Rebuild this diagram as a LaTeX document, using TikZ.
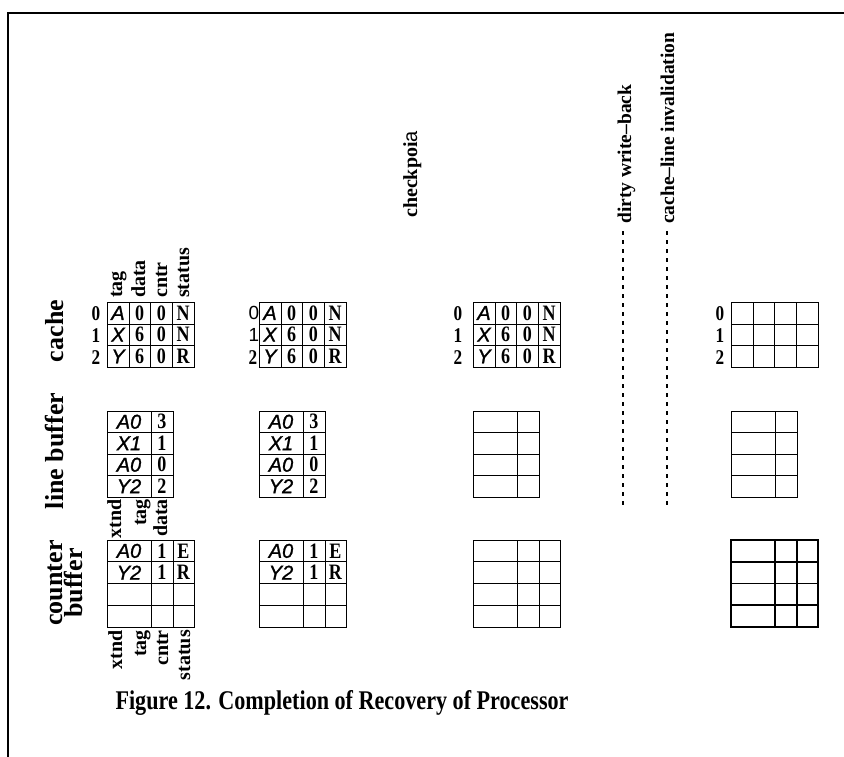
\documentclass[tikz,border=0pt]{standalone}
\usepackage{fontspec}
\setmainfont{Liberation Serif}
\newfontfamily\lserif{Liberation Serif}
\newfontfamily\cserif{Liberation Serif}[FakeStretch=0.82]
\newfontfamily\lsans{Liberation Sans}
\newfontfamily\lsansb{Liberation Sans}[FakeBold=1.2]

\newcommand\cachegrid[1]{%
  \draw[gridline] (#1,302) rectangle (#1+87,367);
  \foreach \dx in {22,43.5,65.5}{\draw[gridline] (#1+\dx,302) -- (#1+\dx,367);}
  \foreach \dy in {324,345.5}{\draw[gridline] (#1,\dy) -- (#1+87,\dy);}
}
\newcommand\cachefill[2]{%
  \foreach \ca/\cb/\cc/\cd [count=\i from 0] in {A/0/0/N,X/6/0/N,Y/6/0/R}{%
    \node[itcell] (#2a\i) at (#1+11,313+21.7*\i) {\ca};
    \node[cell] (#2b\i) at (#1+32.75,313+21.7*\i) {\cb};
    \node[cell] (#2c\i) at (#1+54.5,313+21.7*\i) {\cc};
    \node[cell] (#2d\i) at (#1+76.25,313+21.7*\i) {\cd};
  }}
\newcommand\lbgrid[1]{%
  \draw[gridline] (#1,411) rectangle (#1+66,497);
  \draw[gridline] (#1+44,411) -- (#1+44,497);
  \foreach \dy in {432.5,454,475.5}{\draw[gridline] (#1,\dy) -- (#1+66,\dy);}
}
\newcommand\lbfill[2]{%
  \foreach \ca/\cb [count=\i from 0] in {A0/3,X1/1,A0/0,Y2/2}{%
    \node[itcell] (#2a\i) at (#1+22,421.75+21.5*\i) {\ca};
    \node[cell] (#2b\i) at (#1+55,421.75+21.5*\i) {\cb};
  }}
\newcommand\cbgrid[2][]{%
  \draw[gridline,#1] (#2,540) rectangle (#2+87,627);
  \foreach \dx in {44,66}{\draw[gridline,#1] (#2+\dx,540) -- (#2+\dx,627);}
  \foreach \dy in {561.75,583.5,605.25}{\draw[gridline,#1] (#2,\dy) -- (#2+87,\dy);}
}
\newcommand\cbfill[2]{%
  \foreach \ca/\cb/\cc [count=\i from 0] in {A0/1/E,Y2/1/R}{%
    \node[itcell] (#2a\i) at (#1+22,550.9+21.75*\i) {\ca};
    \node[cell] (#2b\i) at (#1+55,550.9+21.75*\i) {\cb};
    \node[cell] (#2c\i) at (#1+76.5,550.9+21.75*\i) {\cc};
  }}

\begin{document}
\begin{tikzpicture}[x=1pt,y=-1pt,
  gridline/.style={line width=1pt,black},
  heavygrid/.style={line width=1.9pt},
  cell/.style={font=\cserif\bfseries\fontsize{22}{22}\selectfont,inner sep=0},
  itcell/.style={font=\lsansb\itshape\fontsize{20}{20}\selectfont,inner sep=0},
  rowlab/.style={font=\cserif\bfseries\fontsize{21}{21}\selectfont,inner sep=0},
  thinrowlab/.style={font=\lsans\fontsize{19}{19}\selectfont,inner sep=0},
  lab/.style={font=\lserif\bfseries\fontsize{20}{20}\selectfont,rotate=90,inner sep=0},
  eventlab/.style={font=\lserif\bfseries\fontsize{19.5}{19.5}\selectfont,rotate=90,inner sep=0},
  biglab/.style={font=\lserif\bfseries\fontsize{26}{20}\selectfont,rotate=90,inner sep=0,align=center},
  dashline/.style={line width=1.2pt,dash pattern=on 4pt off 5pt},
  captionstyle/.style={font=\cserif\bfseries\fontsize{27}{27}\selectfont,inner sep=0}]
\useasboundingbox (0,0) rectangle (844,757);
% frame
\draw[line width=2pt] (8,757) -- (8,13) -- (844,13);

% side labels
\node[biglab,anchor=base] (lcache) at (63,331) {cache};
\node[biglab,anchor=base] (lline) at (63,451) {line buffer};
\node[biglab] (lcounter) at (65,583) {counter\\buffer};

% column 1
\node[lab,anchor=base west] (htag) at (122,298) {tag};
\node[lab,anchor=base west] (hdata) at (145,298) {data};
\node[lab,anchor=base west] (hcntr) at (167,298) {cntr};
\node[lab,anchor=base west] (hstatus) at (189,298) {status};
\node[rowlab] (r10) at (96,314) {0};
\node[rowlab] (r11) at (96,336) {1};
\node[rowlab] (r12) at (96,358) {2};
\cachegrid{107}
\cachefill{107}{ca}
\lbgrid{107}
\lbfill{107}{la}
\node[lab,anchor=base east] (lbx) at (121,499) {xtnd};
\node[lab,anchor=base east] (lbt) at (146,499) {tag};
\node[lab,anchor=base east] (lbd) at (167,499) {data};
\cbgrid{107}
\cbfill{107}{ba}
\node[lab,anchor=base east] (cbx) at (122,630) {xtnd};
\node[lab,anchor=base east] (cbt) at (146,630) {tag};
\node[lab,anchor=base east] (cbc) at (168,630) {cntr};
\node[lab,anchor=base east] (cbs) at (190,630) {status};

% column 2
\node[thinrowlab] (r20) at (254,313) {0};
\node[thinrowlab] (r21) at (254,335) {1};
\node[rowlab] (r22) at (253,358) {2};
\cachegrid{259}
\cachefill{259}{cb}
\lbgrid{259}
\lbfill{259}{lb}
\cbgrid{259}
\cbfill{259}{bb}

% checkpoint label
\node[lab,anchor=base west] (ckpt) at (417,218) {checkpoi{\lsans\mdseries a}};

% column 3
\node[rowlab] (r30) at (458,314) {0};
\node[rowlab] (r31) at (458,336) {1};
\node[rowlab] (r32) at (458,358) {2};
\cachegrid{473}
\cachefill{473}{cc}
\lbgrid{473}
\cbgrid{473}

% events
\node[eventlab,anchor=base west] (dwb) at (631,224) {dirty write–back};
\node[eventlab,anchor=base west] (cli) at (674,224) {cache–line invalidation};
\coordinate (dwtop) at (623,231);
\coordinate (dwbot) at (623,508);
\coordinate (citop) at (667,231);
\coordinate (cibot) at (667,508);
\draw[dashline] (dwtop) -- (dwbot);
\draw[dashline] (citop) -- (cibot);

% column 4
\node[rowlab] (r40) at (720,314) {0};
\node[rowlab] (r41) at (720,336) {1};
\node[rowlab] (r42) at (720,358) {2};
\cachegrid{731}
\lbgrid{731}
\cbgrid[heavygrid]{731}

% caption
\node[captionstyle,anchor=base] (cap) at (342,709) {Figure 12. Completion of Recovery of Processor};
\end{tikzpicture}
\end{document}
